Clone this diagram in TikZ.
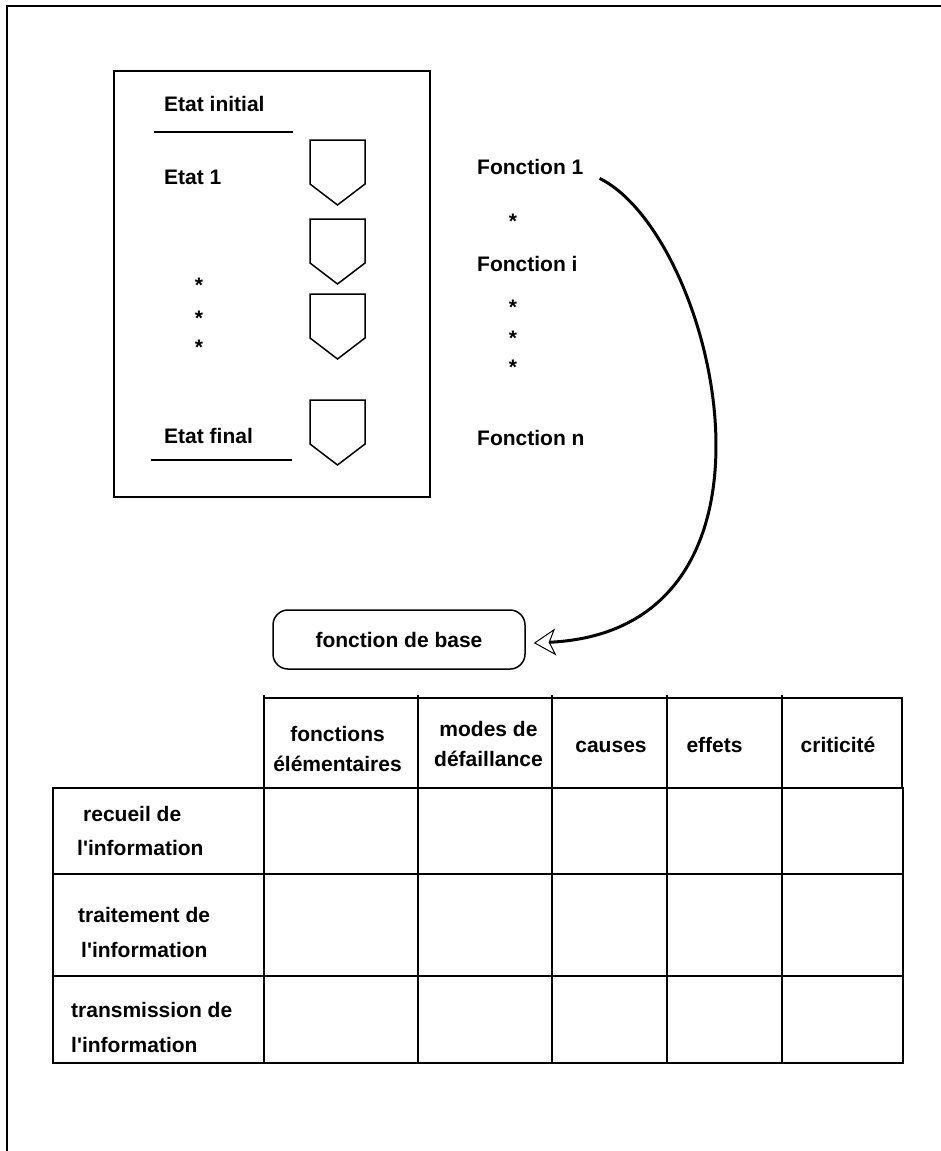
\documentclass[tikz,border=0pt]{standalone}
\usepackage{fontspec}
\setmainfont{Liberation Sans}
\usepackage{xcolor}
\definecolor{ink}{RGB}{0,0,0}
\usepackage{tikz}
\usetikzlibrary{arrows.meta}
\tikzset{
  %% Text labels
  lbl/.style={font=\bfseries\fontsize{21}{30}\selectfont, text=ink, inner sep=0pt},
  %% Frames and table rules
  rule/.style={draw=ink, line width=2pt},
  thinrule/.style={draw=ink, line width=1.5pt},
  shieldline/.style={draw=ink, line width=1.5pt, line join=miter},
  basebox/.style={lbl, draw=ink, line width=1.5pt, rounded corners=15pt,
                  minimum width=252pt, minimum height=59pt},
  %% Curved link to the base function
  link/.style={draw=ink, line width=3pt,
               -{Stealth[open,length=22pt,width=27pt,inset=6pt,line width=1pt]}},
}

\begin{document}
\begin{tikzpicture}[x=1pt,y=-1pt]
\useasboundingbox (0,0) rectangle (941,1151);
%% page frame
\draw[rule] (7,1151) -- (7,6) -- (941,6);
%% states panel
\draw[thinrule] (114,71) rectangle (430,497);
\node[lbl,anchor=base west] (init) at (164,111) {Etat initial};
\node[lbl,anchor=base west] (etat1) at (164,184) {Etat 1};
\node[lbl,anchor=base west] (final) at (164,443) {Etat final};
\draw[thinrule] (154,132) -- (293,132);
\draw[thinrule] (151,460) -- (292,460);
\foreach \y [count=\i] in {292,325,354}
  \node[lbl,anchor=base] (sa\i) at (199,\y) {*};
\foreach \t in {140,219,294,400}
  \draw[shieldline] (310,\t) -- (365,\t) -- (365,\t+44) -- (337.5,\t+65) -- (310,\t+44) -- cycle;
%% functions
\node[lbl,anchor=base west] (f1) at (477,174) {Fonction 1};
\node[lbl,anchor=base west] (fi) at (477,271) {Fonction i};
\node[lbl,anchor=base west] (fn) at (477,445) {Fonction n};
\foreach \y [count=\i] in {228,314,345,374}
  \node[lbl,anchor=base] (sf\i) at (513,\y) {*};
%% base function
\node[basebox] (base) at (399,639.5) {fonction de base};
\draw[link] ([shift={(16,4)}]f1.south east) .. controls (715,235) and (810,630) .. ([shift={(8,3.5)}]base.east);
%% table
\foreach \x in {264,418,552,667,782}
  \draw[rule] (\x,695) -- (\x,1063);
\draw[rule] (264,698) -- (902,698) -- (902,788);
\draw[rule] (53,788) rectangle (903,1063);
\foreach \y in {874,976}
  \draw[rule] (53,\y) -- (903,\y);
\node[lbl,align=center] (hfonc) at (337.5,749) {fonctions\\élémentaires};
\node[lbl,align=center] (hmode) at (488.5,744) {modes de\\défaillance};
\node[lbl,anchor=base] (hcause) at (611,752) {causes};
\node[lbl,anchor=base] (heff) at (714.5,752) {effets};
\node[lbl,anchor=base] (hcrit) at (838,752) {criticité};
\node[lbl,align=left,anchor=west] (rrec) at (77,831) {\hspace*{6pt}recueil de\\[4pt]l\textquotesingle information};
\node[lbl,align=left,anchor=west] (rtrt) at (78,932) {traitement de\\[5pt]\hspace*{3pt}l\textquotesingle information};
\node[lbl,align=left,anchor=west] (rtrs) at (71,1027) {transmission de\\[5pt]l\textquotesingle information};
\end{tikzpicture}
\end{document}
